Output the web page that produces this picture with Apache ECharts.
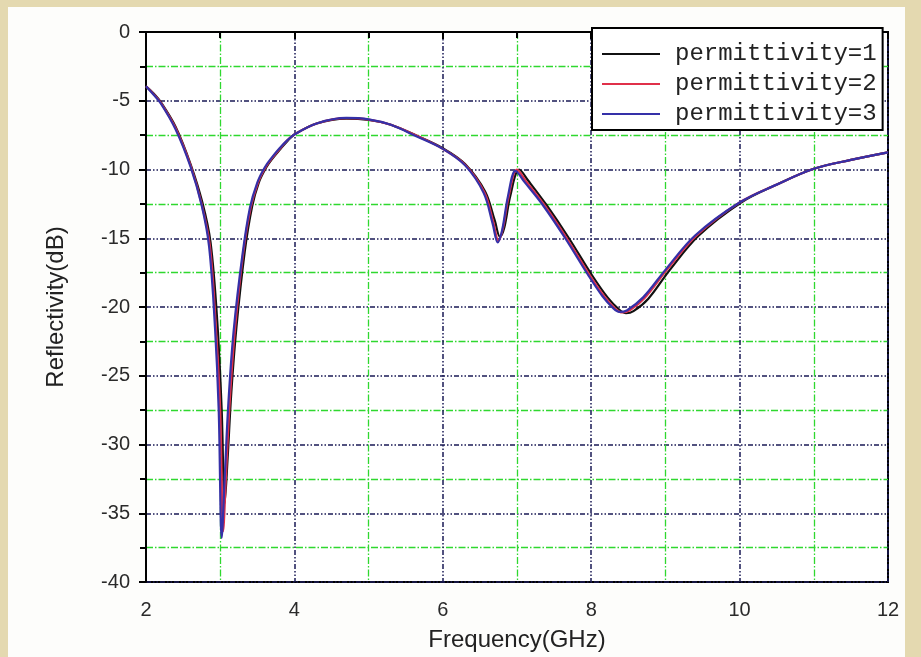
<!DOCTYPE html>
<html>
	<head>
		<meta charset="UTF-8">
		<title></title>
		<style>
			body { margin: 0; background: #e4d9b0; }
			#panel { position: absolute; left: 8px; top: 7px; width: 897px; height: 650px; background: #fdfdfb; }
			#main { position: absolute; left: 0; top: 0; width: 921px; height: 657px; }
		</style>
	</head>
	<body>
		<div id="panel"></div>
		<div id="main"></div>

		<script src="https://cdn.jsdelivr.net/npm/echarts@6/dist/echarts.min.js"></script>
		<script>
			// 图例名称
			var names = ['permittivity=1', 'permittivity=2', 'permittivity=3'];

			// permittivity=1（黑色）
			var freq1 = [2.0, 2.1, 2.2, 2.4, 2.6, 2.76, 2.87, 2.96, 3.02, 3.06, 3.1, 3.15, 3.22, 3.33, 3.43, 3.52, 3.62, 3.72, 3.82, 3.91, 4.0, 4.3, 4.7, 5.0, 5.3, 5.65, 6.0, 6.3, 6.57, 6.7, 6.77, 6.83, 6.91, 7.03, 7.15, 7.4, 7.7, 8.0, 8.22, 8.38, 8.47, 8.57, 8.77, 9.06, 9.45, 10.02, 10.5, 11.0, 11.5, 12.0];
			var refl1 = [-3.95, -4.45, -5.1, -6.9, -9.6, -12.4, -15.3, -21.0, -27.5, -34.3, -31.0, -26.2, -21.4, -16.0, -12.7, -10.95, -9.85, -9.1, -8.45, -7.9, -7.45, -6.65, -6.3, -6.4, -6.75, -7.55, -8.45, -9.6, -11.6, -13.7, -14.9, -14.2, -11.9, -10.0, -10.8, -12.6, -15.0, -17.6, -19.3, -20.2, -20.45, -20.3, -19.4, -17.3, -14.8, -12.4, -11.1, -9.95, -9.3, -8.75];

			// permittivity=2（红色）
			var freq2 = [2.0, 2.1, 2.2, 2.4, 2.6, 2.75, 2.86, 2.94, 3.0, 3.04, 3.08, 3.13, 3.2, 3.31, 3.41, 3.51, 3.61, 3.71, 3.81, 3.9, 4.0, 4.3, 4.7, 5.0, 5.3, 5.65, 6.0, 6.3, 6.56, 6.68, 6.75, 6.81, 6.89, 7.0, 7.12, 7.37, 7.67, 7.97, 8.18, 8.33, 8.42, 8.52, 8.72, 9.02, 9.42, 10.0, 10.5, 11.0, 11.5, 12.0];
			var refl2 = [-3.95, -4.5, -5.15, -7.0, -9.7, -12.5, -15.5, -21.3, -27.5, -36.3, -32.0, -26.8, -21.6, -16.1, -12.8, -10.95, -9.85, -9.1, -8.45, -7.9, -7.45, -6.65, -6.27, -6.37, -6.75, -7.55, -8.5, -9.65, -11.65, -13.8, -15.2, -14.3, -11.9, -10.0, -10.85, -12.6, -15.0, -17.6, -19.25, -20.15, -20.4, -20.25, -19.35, -17.3, -14.8, -12.4, -11.1, -9.95, -9.3, -8.75];

			// permittivity=3（蓝色）
			var freq3 = [2.0, 2.1, 2.2, 2.4, 2.6, 2.75, 2.85, 2.93, 2.98, 3.02, 3.06, 3.11, 3.18, 3.3, 3.4, 3.5, 3.6, 3.7, 3.8, 3.9, 4.0, 4.3, 4.7, 5.0, 5.3, 5.65, 6.0, 6.3, 6.55, 6.67, 6.74, 6.8, 6.88, 6.98, 7.1, 7.35, 7.65, 7.95, 8.15, 8.3, 8.38, 8.48, 8.7, 9.0, 9.4, 10.0, 10.5, 11.0, 11.5, 12.0];
			var refl3 = [-3.95, -4.55, -5.2, -7.1, -9.8, -12.6, -15.6, -21.5, -27.5, -36.8, -32.5, -27.0, -21.8, -16.2, -12.8, -10.95, -9.85, -9.1, -8.45, -7.9, -7.45, -6.65, -6.25, -6.35, -6.75, -7.6, -8.5, -9.7, -11.7, -13.9, -15.3, -14.4, -11.9, -10.1, -10.9, -12.6, -15.0, -17.6, -19.2, -20.1, -20.35, -20.25, -19.3, -17.3, -14.8, -12.4, -11.1, -9.95, -9.3, -8.75];

			var colors = ['#111111', '#e0304a', '#3530a8'];

			function pairs(xs, ys) {
				var out = [];
				for (var i = 0; i < xs.length; i++) {
					out.push([xs[i], ys[i]]);
				}
				return out;
			}

			var myChart = echarts.init(document.getElementById('main'));

			var option = {
				animation: false,
				grid: {
					left: 146,
					right: 33,
					top: 32,
					bottom: 75,
					show: true,
					backgroundColor: '#ffffff',
					borderColor: '#000',
					borderWidth: 2
				},
				legend: {
					orient: 'vertical',
					left: 592,
					top: 28,
					data: names,
					icon: 'rect',
					itemWidth: 58,
					itemHeight: 2,
					itemGap: 6,
					backgroundColor: '#fff',
					borderColor: '#000',
					borderWidth: 2,
					borderRadius: 0,
					padding: [14, 6, 4, 10],
					textStyle: {
						fontFamily: 'Liberation Mono',
						fontSize: 24,
						lineHeight: 24,
						color: '#222',
						padding: [0, 0, 0, 10]
					}
				},
				xAxis: {
					type: 'value',
					min: 2,
					max: 12,
					interval: 2,
					name: 'Frequency(GHz)',
					nameLocation: 'middle',
					nameGap: 46,
					nameTextStyle: { fontFamily: 'Liberation Sans', fontSize: 24, color: '#222' },
					axisLine: { lineStyle: { color: '#000', width: 2 } },
					axisTick: { inside: false, length: 7, lineStyle: { color: '#000', width: 2 } },
					minorTick: { show: true, splitNumber: 2, length: 6, lineStyle: { color: '#000', width: 2 } },
					axisLabel: { margin: 18, fontFamily: 'Liberation Sans', fontSize: 20, color: '#2a2a2a' },
					splitLine: { show: true, lineStyle: { color: '#1a1a55', width: 1.5, type: [5, 2, 1.5, 2, 1.5, 2] } },
					minorSplitLine: { show: true, lineStyle: { color: '#2fd82f', width: 1.3, type: [7, 2, 1.5, 2] } }
				},
				yAxis: {
					type: 'value',
					min: -40,
					max: 0,
					interval: 5,
					name: 'Reflectivity(dB)',
					nameLocation: 'middle',
					nameGap: 78,
					nameTextStyle: { fontFamily: 'Liberation Sans', fontSize: 24, color: '#222' },
					axisLine: { lineStyle: { color: '#000', width: 2 } },
					axisTick: { inside: false, length: 7, lineStyle: { color: '#000', width: 2 } },
					minorTick: { show: true, splitNumber: 2, length: 6, lineStyle: { color: '#000', width: 2 } },
					axisLabel: { margin: 16, fontFamily: 'Liberation Sans', fontSize: 20, color: '#2a2a2a' },
					splitLine: { show: true, lineStyle: { color: '#1a1a55', width: 1.5, type: [5, 2, 1.5, 2, 1.5, 2] } },
					minorSplitLine: { show: true, lineStyle: { color: '#2fd82f', width: 1.3, type: [7, 2, 1.5, 2] } }
				},
				series: [
					{ name: names[0], type: 'line', data: pairs(freq1, refl1) },
					{ name: names[1], type: 'line', data: pairs(freq2, refl2) },
					{ name: names[2], type: 'line', data: pairs(freq3, refl3) }
				].map(function (s, i) {
					s.smooth = 0.35;
					s.showSymbol = false;
					s.symbol = 'none';
					s.color = colors[i];
					s.lineStyle = { color: colors[i], width: 2.2 };
					return s;
				})
			};

			myChart.setOption(option);
		</script>
	</body>
</html>
